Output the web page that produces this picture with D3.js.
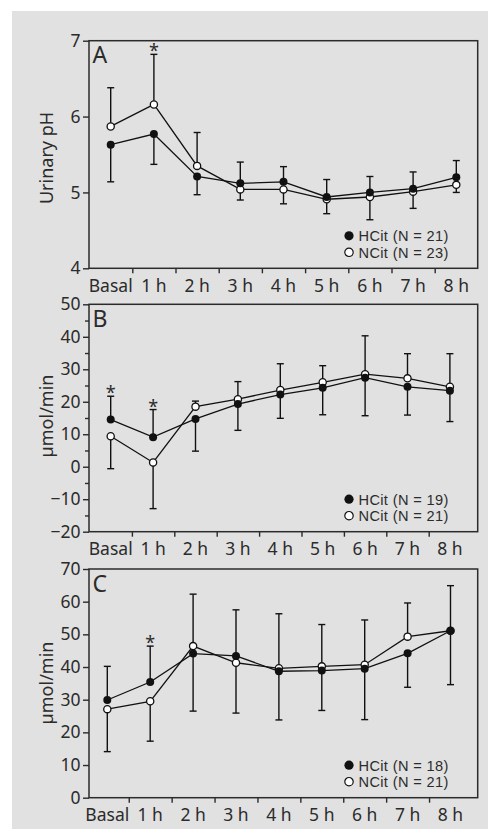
<!DOCTYPE html>
<html>
<head>
<meta charset="utf-8">
<script src="https://cdn.jsdelivr.net/npm/d3@7"></script>
<style>
  html, body { margin: 0; padding: 0; background: #fff; }
  svg { display: block; font-family: "Noto Sans", sans-serif; }
  text { fill: #2b2b2b; }
</style>
</head>
<body>
<div id="chart"></div>
<script>
// 时间点
const categories = ['Basal', '1 h', '2 h', '3 h', '4 h', '5 h', '6 h', '7 h', '8 h']

// A: urinary pH
const phHCit = [5.63, 5.77, 5.21, 5.12, 5.14, 4.94, 5.00, 5.05, 5.20]
const phHCitSd = [0.49, 0.40, 0.24, 0.28, 0.20, 0.23, 0.21, 0.22, 0.22]
const phHCitDir = [-1, -1, -1, 1, 1, 1, 1, 1, 1]
const phNCit = [5.87, 6.16, 5.35, 5.04, 5.04, 4.91, 4.94, 5.01, 5.10]
const phNCitSd = [0.51, 0.66, 0.44, 0.14, 0.19, 0.19, 0.30, 0.22, 0.10]
const phNCitDir = [1, 1, 1, -1, -1, -1, -1, -1, -1]
const phTicks = [4, 5, 6, 7]

// B: µmol/min
const bHCit = [14.5, 9.1, 14.7, 19.3, 22.2, 24.3, 27.4, 24.6, 23.4]
const bHCitSd = [7.2, 8.5, 9.9, 8.1, 7.3, 8.3, 11.7, 8.7, 9.5]
const bHCitDir = [1, 1, -1, -1, -1, -1, -1, -1, -1]
const bNCit = [9.4, 1.3, 18.5, 20.8, 23.6, 26.0, 28.5, 27.2, 24.6]
const bNCitSd = [10.0, 14.2, 1.7, 5.4, 8.1, 5.1, 11.8, 7.6, 10.2]
const bNCitDir = [-1, -1, 1, 1, 1, 1, 1, 1, 1]
const bTicks = [-20, -10, 0, 10, 20, 30, 40, 50]
const bMinorTicks = [-15, -5, 5, 15, 25, 35, 45]

// C: µmol/min
const cHCit = [29.9, 35.4, 44.1, 43.4, 38.7, 38.9, 39.5, 44.2, 51.1]
const cHCitSd = [10.3, 11.0, 17.6, 14.1, 14.9, 12.2, 15.6, 10.4, 16.5]
const cHCitDir = [1, 1, -1, 1, -1, -1, -1, -1, -1]
const cNCit = [27.1, 29.5, 46.4, 41.3, 39.6, 40.2, 40.7, 49.3, 51.1]
const cNCitSd = [13.0, 12.2, 15.9, 15.4, 16.7, 12.8, 13.7, 10.3, 13.8]
const cNCitDir = [-1, -1, 1, -1, 1, 1, 1, 1, 1]
const cTicks = [0, 10, 20, 30, 40, 50, 60, 70]

const W = 488
const H = 834

const svg = d3.select('#chart').append('svg')
  .attr('width', W)
  .attr('height', H)

// 灰色背景
svg.append('rect')
  .attr('x', 12).attr('y', 11)
  .attr('width', W - 12).attr('height', 818)
  .attr('fill', '#e1e1e1')

const panels = [
  {
    label: 'A', top: 40.7, bottom: 268.3, domain: [4, 7], ticks: phTicks, minor: [],
    title: 'Urinary pH', titleY: 158, x0: 110.7, step: 43.2,
    hcit: phHCit, hcitSd: phHCitSd, hcitDir: phHCitDir,
    ncit: phNCit, ncitSd: phNCitSd, ncitDir: phNCitDir,
    stars: [1], nH: 21, nN: 23
  },
  {
    label: 'B', top: 304.3, bottom: 531.7, domain: [-20, 50], ticks: bTicks, minor: bMinorTicks,
    title: 'µmol/min', titleY: 416, x0: 110.7, step: 42.4,
    hcit: bHCit, hcitSd: bHCitSd, hcitDir: bHCitDir,
    ncit: bNCit, ncitSd: bNCitSd, ncitDir: bNCitDir,
    stars: [0, 1], nH: 19, nN: 21
  },
  {
    label: 'C', top: 569, bottom: 797.7, domain: [0, 70], ticks: cTicks, minor: [],
    title: 'µmol/min', titleY: 683, x0: 107.3, step: 42.9,
    hcit: cHCit, hcitSd: cHCitSd, hcitDir: cHCitDir,
    ncit: cNCit, ncitSd: cNCitSd, ncitDir: cNCitDir,
    stars: [1], nH: 18, nN: 21
  }
]

const left = 89
const right = 477.7
const ink = '#2b2b2b'

panels.forEach(p => drawPanel(p))

function drawPanel (p) {
  const g = svg.append('g')
  const y = d3.scaleLinear().domain(p.domain).range([p.bottom, p.top])
  const x = d3.scaleLinear().domain([0, categories.length - 1])
    .range([p.x0, p.x0 + p.step * (categories.length - 1)])

  // 边框
  g.append('rect')
    .attr('x', left).attr('y', p.top)
    .attr('width', right - left).attr('height', p.bottom - p.top)
    .attr('fill', 'none')
    .attr('stroke', ink)
    .attr('stroke-width', 1.5)

  // y轴
  const yAxis = g.append('g')
    .attr('transform', `translate(${left},0)`)
    .call(d3.axisLeft(y).tickValues(p.ticks).tickSize(6).tickPadding(2.5).tickFormat(d3.format('d')))
  yAxis.select('.domain').remove()
  yAxis.selectAll('line').attr('stroke', ink).attr('stroke-width', 1.4)
  yAxis.selectAll('text')
    .attr('font-size', 17.5)
    .attr('fill', ink)
    .attr('font-family', '"Noto Sans", sans-serif')

  if (p.minor.length) {
    const minorAxis = g.append('g')
      .attr('transform', `translate(${left},0)`)
      .call(d3.axisLeft(y).tickValues(p.minor).tickSize(4).tickFormat(''))
    minorAxis.select('.domain').remove()
    minorAxis.selectAll('line').attr('stroke', ink).attr('stroke-width', 1.4)
  }

  // x轴：刻度在类别之间
  const between = d3.range(categories.length - 1).map(i => i + 0.5)
  const xAxis = g.append('g')
    .attr('transform', `translate(0,${p.bottom})`)
    .call(d3.axisBottom(x).tickValues(between).tickSize(5).tickFormat(''))
  xAxis.select('.domain').remove()
  xAxis.selectAll('line').attr('stroke', ink).attr('stroke-width', 1.4)

  g.selectAll('text.xlab')
    .data(categories)
    .join('text')
    .attr('class', 'xlab')
    .attr('x', (d, i) => x(i))
    .attr('y', p.bottom + 23.5)
    .attr('text-anchor', 'middle')
    .attr('font-size', 17.5)
    .text(d => d)

  // y轴标题
  g.append('text')
    .attr('transform', `translate(53,${p.titleY}) rotate(-90)`)
    .attr('text-anchor', 'middle')
    .attr('font-size', 18)
    .text(p.title)

  // 面板字母
  g.append('text')
    .attr('x', 92.5)
    .attr('y', p.top + 22.5)
    .attr('font-size', 23)
    .text(p.label)

  const line = d3.line().x((d, i) => x(i)).y(d => y(d))

  ;[p.ncit, p.hcit].forEach(vals => {
    g.append('path')
      .datum(vals)
      .attr('d', line)
      .attr('fill', 'none')
      .attr('stroke', '#111')
      .attr('stroke-width', 1.3)
  })

  // 单侧误差线
  const bars = []
  p.hcit.forEach((v, i) => bars.push({ i, v, end: v + p.hcitDir[i] * p.hcitSd[i] }))
  p.ncit.forEach((v, i) => bars.push({ i, v, end: v + p.ncitDir[i] * p.ncitSd[i] }))

  g.selectAll('line.err')
    .data(bars)
    .join('line')
    .attr('class', 'err')
    .attr('x1', d => x(d.i)).attr('x2', d => x(d.i))
    .attr('y1', d => y(d.v)).attr('y2', d => y(d.end))
    .attr('stroke', '#111')
    .attr('stroke-width', 1.4)

  g.selectAll('line.cap')
    .data(bars)
    .join('line')
    .attr('class', 'cap')
    .attr('x1', d => x(d.i) - 3.5).attr('x2', d => x(d.i) + 3.5)
    .attr('y1', d => y(d.end)).attr('y2', d => y(d.end))
    .attr('stroke', '#111')
    .attr('stroke-width', 1.4)

  // 星号
  g.selectAll('text.star')
    .data(p.stars)
    .join('text')
    .attr('class', 'star')
    .attr('x', i => x(i))
    .attr('y', i => {
      const tops = [p.hcit[i] + p.hcitDir[i] * p.hcitSd[i], p.ncit[i] + p.ncitDir[i] * p.ncitSd[i]]
      return y(d3.max(tops)) + 3
    })
    .attr('text-anchor', 'middle')
    .attr('font-size', 18)
    .text('*')

  // 数据点
  g.selectAll('circle.ncit')
    .data(p.ncit)
    .join('circle')
    .attr('class', 'ncit')
    .attr('cx', (d, i) => x(i)).attr('cy', d => y(d))
    .attr('r', 3.6)
    .attr('fill', '#fff')
    .attr('stroke', '#111')
    .attr('stroke-width', 1.3)

  g.selectAll('circle.hcit')
    .data(p.hcit)
    .join('circle')
    .attr('class', 'hcit')
    .attr('cx', (d, i) => x(i)).attr('cy', d => y(d))
    .attr('r', 4)
    .attr('fill', '#111')

  // 图例 (行距很紧，用 Liberation Sans 避免文字框重叠)
  const lg = g.append('g').attr('transform', `translate(349,${p.bottom - 32.5})`)
  lg.append('circle').attr('r', 4.6).attr('fill', '#111')
  lg.append('circle').attr('cy', 16.5).attr('r', 4.2)
    .attr('fill', '#fff').attr('stroke', '#111').attr('stroke-width', 1.2)
  lg.selectAll('text.leg')
    .data([`HCit (N = ${p.nH})`, `NCit (N = ${p.nN})`])
    .join('text')
    .attr('class', 'leg')
    .attr('x', 9.5)
    .attr('y', (d, i) => 5.3 + i * 16.5)
    .attr('font-family', '"Liberation Sans", Arial, sans-serif')
    .attr('font-size', 14.6)
    .attr('letter-spacing', 0.35)
    .text(d => d)
}
</script>
</body>
</html>
